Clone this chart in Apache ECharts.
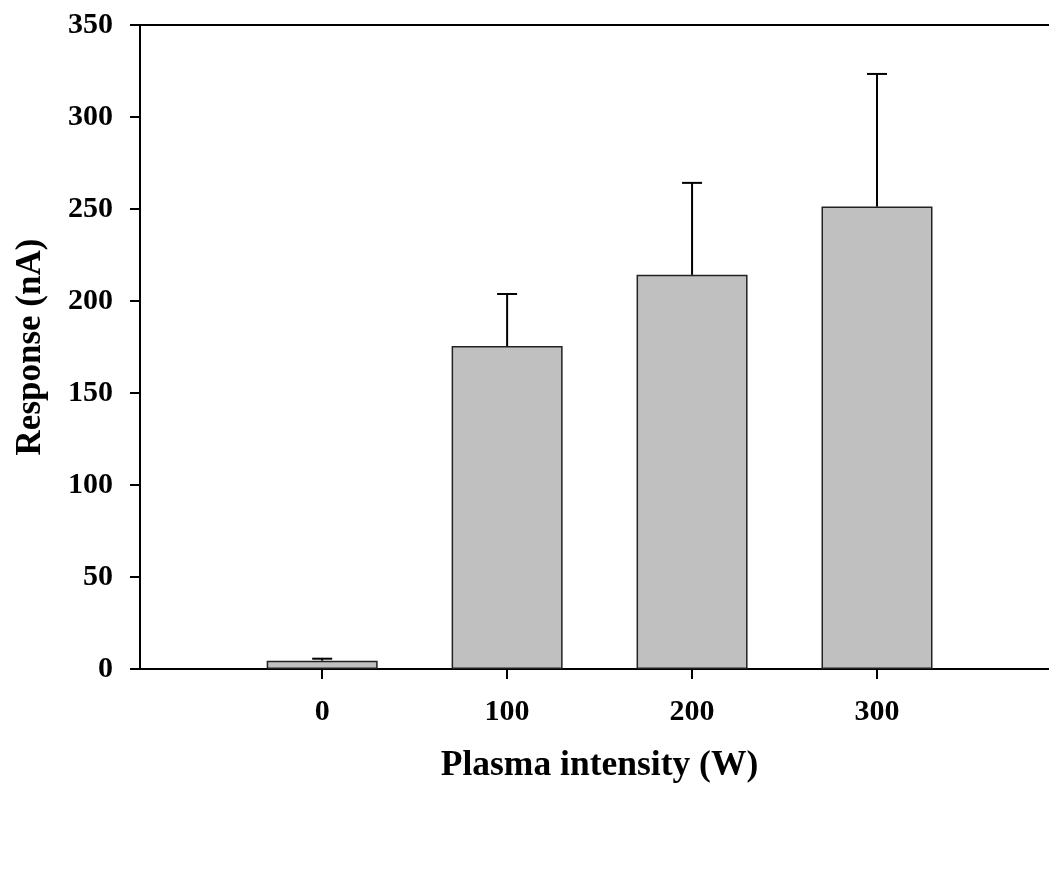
<!DOCTYPE html>
<html>
<head>
<meta charset="utf-8">
<script src="https://cdn.jsdelivr.net/npm/echarts@6/dist/echarts.min.js"></script>
<style>
  html, body { margin: 0; padding: 0; background: #fff; }
  #main { width: 1049px; height: 888px; }
</style>
</head>
<body>
<div id="main"></div>
<script>
// plasma power (W) and measured response (nA)
const plasmaPower = [0, 100, 200, 300];
const responseMean = [4.5, 175.5, 214.2, 251.3];
const responseErr = [1.1, 28.3, 50.0, 72.1];
const yTicks = [0, 50, 100, 150, 200, 250, 300, 350];

const serif = "'Liberation Serif', 'Times New Roman', serif";

const myChart = echarts.init(document.getElementById('main'));

const barData = plasmaPower.map((p, i) => [p, responseMean[i]]);
const errData = plasmaPower.map((p, i) => [p, responseMean[i], responseErr[i]]);

const option = {
    animation: false,
    backgroundColor: '#fff',
    grid: {
        left: 140,
        right: 0,
        top: 25,
        bottom: 219
    },
    xAxis: [
        {
            type: 'value',
            min: -98.5,
            max: 393,
            position: 'bottom',
            name: 'Plasma intensity (W)',
            nameLocation: 'middle',
            nameGap: 79,
            nameTextStyle: {
                fontFamily: serif,
                fontWeight: 'bold',
                fontSize: 35.5,
                color: '#000',
                padding: [0, 0, 0, 10]
            },
            splitLine: { show: false },
            axisLine: { show: true, onZero: false, lineStyle: { color: '#000', width: 2 } },
            axisTick: {
                show: true,
                customValues: plasmaPower,
                length: 10,
                lineStyle: { color: '#000', width: 2 }
            },
            axisLabel: {
                customValues: plasmaPower,
                margin: 28,
                fontFamily: serif,
                fontWeight: 'bold',
                fontSize: 30,
                color: '#000'
            }
        },
        {
            // top frame line
            type: 'value',
            min: -98.5,
            max: 393,
            position: 'top',
            splitLine: { show: false },
            axisLine: { show: true, onZero: false, lineStyle: { color: '#000', width: 2 } },
            axisTick: { show: false },
            axisLabel: { show: false }
        }
    ],
    yAxis: {
        type: 'value',
        min: 0,
        max: 350,
        interval: 50,
        position: 'left',
        name: 'Response (nA)',
        nameLocation: 'middle',
        nameGap: 92,
        nameTextStyle: {
            fontFamily: serif,
            fontWeight: 'bold',
            fontSize: 35,
            color: '#000'
        },
        splitLine: { show: false },
        axisLine: { show: true, onZero: false, lineStyle: { color: '#000', width: 2 } },
        axisTick: { show: true, length: 10, lineStyle: { color: '#000', width: 2 } },
        axisLabel: {
            margin: 27,
            fontFamily: serif,
            fontWeight: 'bold',
            fontSize: 30,
            color: '#000',
            formatter: (v) => (yTicks.indexOf(v) >= 0 ? String(v) : '')
        }
    },
    series: [
        {
            type: 'bar',
            xAxisIndex: 0,
            data: barData,
            barWidth: 111,
            itemStyle: {
                color: '#c0c0c0',
                borderColor: '#222',
                borderWidth: 1.5
            },
            z: 2
        },
        {
            type: 'custom',
            xAxisIndex: 0,
            data: errData,
            z: 3,
            renderItem: function (params, api) {
                const x = api.value(0);
                const top = api.value(1) + api.value(2);
                const p0 = api.coord([x, api.value(1)]);
                const p1 = api.coord([x, top]);
                const capHalf = 10;
                const style = { stroke: '#000', lineWidth: 2 };
                return {
                    type: 'group',
                    children: [
                        { type: 'line', shape: { x1: p0[0], y1: p0[1], x2: p1[0], y2: p1[1] }, style: style },
                        { type: 'line', shape: { x1: p1[0] - capHalf, y1: p1[1], x2: p1[0] + capHalf, y2: p1[1] }, style: style }
                    ]
                };
            }
        }
    ]
};

myChart.setOption(option);
</script>
</body>
</html>
